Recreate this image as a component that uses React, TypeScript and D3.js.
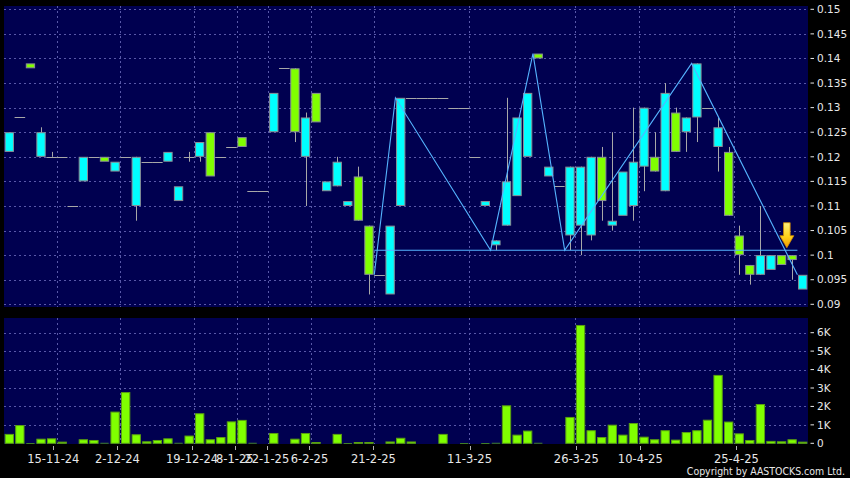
import React from "react";
import * as d3 from "d3";

const W = 850;
const H = 478;

// ---- data (one entry per trading slot) ----
const opens = [
  0.125, 0.128, 0.138, 0.125, 0.12, 0.12, 0.11, 0.12, 0.12, 0.119,
  0.119, 0.12, 0.12, 0.119, 0.119, 0.121, 0.114, 0.12, 0.123, 0.116,
  0.12, 0.122, 0.122, 0.113, 0.113, 0.133, 0.138, 0.125, 0.128, 0.127,
  0.115, 0.119, 0.111, 0.107, 0.096, 0.096, 0.106, 0.132, 0.132, 0.132,
  0.132, 0.132, 0.13, 0.13, 0.12, 0.111, 0.103, 0.115, 0.128, 0.133,
  0.14, 0.118, 0.114, 0.118, 0.118, 0.12, 0.111, 0.107, 0.117, 0.119,
  0.13, 0.117, 0.133, 0.121, 0.128, 0.139, 0.13, 0.126, 0.108, 0.1,
  0.096, 0.1, 0.1, 0.098, 0.099, 0.096,
];
const highs = [
  0.125, 0.128, 0.139, 0.126, 0.121, 0.12, 0.11, 0.12, 0.12, 0.12,
  0.119, 0.12, 0.12, 0.119, 0.119, 0.121, 0.114, 0.121, 0.123, 0.125,
  0.12, 0.122, 0.124, 0.113, 0.113, 0.133, 0.138, 0.138, 0.129, 0.133,
  0.115, 0.12, 0.111, 0.118, 0.106, 0.096, 0.106, 0.132, 0.132, 0.132,
  0.132, 0.132, 0.13, 0.13, 0.12, 0.111, 0.103, 0.132, 0.128, 0.133,
  0.141, 0.118, 0.114, 0.118, 0.118, 0.12, 0.122, 0.125, 0.117, 0.13,
  0.13, 0.125, 0.135, 0.13, 0.128, 0.139, 0.13, 0.128, 0.122, 0.106,
  0.098, 0.11, 0.1, 0.1, 0.1, 0.096,
];
const lows = [
  0.121, 0.128, 0.138, 0.12, 0.12, 0.12, 0.11, 0.115, 0.12, 0.119,
  0.117, 0.12, 0.107, 0.119, 0.119, 0.119, 0.111, 0.119, 0.119, 0.116,
  0.12, 0.122, 0.122, 0.113, 0.113, 0.125, 0.138, 0.123, 0.11, 0.127,
  0.113, 0.114, 0.11, 0.107, 0.092, 0.096, 0.092, 0.11, 0.132, 0.132,
  0.132, 0.132, 0.13, 0.13, 0.12, 0.11, 0.101, 0.106, 0.112, 0.12,
  0.14, 0.116, 0.114, 0.101, 0.1, 0.103, 0.107, 0.105, 0.108, 0.107,
  0.113, 0.117, 0.113, 0.121, 0.121, 0.123, 0.13, 0.117, 0.108, 0.096,
  0.094, 0.096, 0.097, 0.098, 0.095, 0.093,
];
const closes = [
  0.121, 0.128, 0.139, 0.12, 0.12, 0.12, 0.11, 0.115, 0.12, 0.12,
  0.117, 0.12, 0.11, 0.119, 0.119, 0.119, 0.111, 0.12, 0.12, 0.125,
  0.12, 0.122, 0.124, 0.113, 0.113, 0.125, 0.138, 0.138, 0.12, 0.133,
  0.113, 0.114, 0.11, 0.116, 0.106, 0.096, 0.092, 0.11, 0.132, 0.132,
  0.132, 0.132, 0.13, 0.13, 0.12, 0.11, 0.102, 0.106, 0.112, 0.12,
  0.141, 0.116, 0.114, 0.104, 0.106, 0.104, 0.12, 0.106, 0.108, 0.11,
  0.118, 0.12, 0.113, 0.129, 0.125, 0.128, 0.13, 0.122, 0.121, 0.104,
  0.098, 0.096, 0.097, 0.1, 0.1, 0.093,
];
const volumes = [
  510, 990, 20, 250, 270, 90, 0, 220, 180, 50,
  1720, 2780, 490, 110, 180, 270, 50, 420, 1630, 220,
  340, 1190, 1270, 50, 0, 560, 0, 250, 560, 70,
  0, 510, 40, 70, 70, 0, 100, 300, 100, 0,
  0, 510, 0, 30, 0, 20, 50, 2060, 470, 690,
  50, 0, 0, 1430, 6420, 710, 340, 1010, 470, 1100,
  360, 220, 710, 200, 610, 710, 1280, 3710, 1180, 540,
  180, 2130, 130, 110, 220, 90,
];

const priceTicks = [0.09, 0.095, 0.1, 0.105, 0.11, 0.115, 0.12, 0.125, 0.13, 0.135, 0.14, 0.145, 0.15];
const priceTickLabels = ["0.09", "0.095", "0.1", "0.105", "0.11", "0.115", "0.12", "0.125", "0.13", "0.135", "0.14", "0.145", "0.15"];
const volumeTicks = [0, 1000, 2000, 3000, 4000, 5000, 6000];
const volumeTickLabels = ["0", "1K", "2K", "3K", "4K", "5K", "6K"];
const dateLabels = ["15-11-24", "2-12-24", "19-12-24", "8-1-25", "22-1-25", "6-2-25", "21-2-25", "11-3-25", "26-3-25", "10-4-25", "25-4-25"];
const dateSlots = [4, 10, 17, 21, 24, 28, 34, 43, 53, 59, 68];

// pattern overlay (zigzag + neckline) and signal
const zigzagSlots = [35, 37, 46, 50, 53, 65, 75];
const zigzagPrices = [0.096, 0.132, 0.101, 0.141, 0.101, 0.139, 0.096];
const necklineSlots = [35, 75];
const necklinePrice = 0.101;
const signalSlot = 74;

// ---- styles ----
const BG = "#000000";
const PANEL = "#000050";
const GRID = "#5858a8";
const UP = "#80ff00";
const DOWN = "#00ffff";
const BOX_STROKE = "#8a8f96";
const WICK = "#a8a8a8";
const VOL_FILL = "#80ff00";
const VOL_STROKE = "#5aa010";
const LINE = "#55b4ff";
const TEXT = "#e8e8e8";
const FONT = "DejaVu Sans, sans-serif";

const PL = 4;
const PR = 808;
const P_TOP = 6;
const P_BOT = 307;
const V_TOP = 318;
const V_BOT = 444;

export default function App() {
  const slots = d3.range(closes.length);
  const x = d3.scaleBand<number>().domain(slots).range([PL, PR]);
  const tickX = d3.scaleBand<number>().domain(slots).range([5.3, 816.4]);
  const step = x.step();
  const bw = step * 0.88;
  const cx = (i: number) => (x(i) as number) + step / 2;

  const y = d3.scaleLinear().domain([0.09, 0.15]).range([304.3, 9.3]);
  const yv = d3.scaleLinear().domain([0, 6000]).range([443.3, 332.7]);

  const zigzag = d3
    .line<number>()
    .x((d) => x(zigzagSlots[d]) as number)
    .y((d) => y(zigzagPrices[d]));
  const zigPath = zigzag(d3.range(zigzagSlots.length)) || "";

  const gridXs = dateSlots.map((s) => (x(s) as number) + step);

  const arrowX = x(signalSlot) as number;
  const arrowTip = y(necklinePrice) - 2.5;

  return (
    <svg
      width={W}
      height={H}
      style={{ position: "absolute", left: 0, top: 0, display: "block", background: BG }}
    >
      <defs>
        <linearGradient id="arrowGrad" x1="0" y1="0" x2="0" y2="1">
          <stop offset="0%" stopColor="#fff27a" />
          <stop offset="55%" stopColor="#ffd21a" />
          <stop offset="100%" stopColor="#f29a00" />
        </linearGradient>
      </defs>
      <rect x={0} y={0} width={W} height={H} fill={BG} />
      {/* panels */}
      <rect x={PL} y={P_TOP} width={PR - PL} height={P_BOT - P_TOP} fill={PANEL} />
      <rect x={PL} y={V_TOP} width={PR - PL} height={V_BOT - V_TOP} fill={PANEL} />

      {/* price grid */}
      <g stroke={GRID} strokeWidth={1} strokeDasharray="2,3" shapeRendering="crispEdges">
        {priceTicks.map((t, i) => (
          <line key={"pg" + i} x1={PL} x2={PR} y1={Math.round(y(t)) + 0.5} y2={Math.round(y(t)) + 0.5} />
        ))}
        {volumeTicks.slice(1).map((t, i) => (
          <line key={"vg" + i} x1={PL} x2={PR} y1={Math.round(yv(t)) + 0.5} y2={Math.round(yv(t)) + 0.5} />
        ))}
        {gridXs.map((gx, i) => (
          <g key={"xg" + i}>
            <line x1={Math.round(gx) + 0.5} x2={Math.round(gx) + 0.5} y1={P_TOP} y2={P_BOT} />
            <line x1={Math.round(gx) + 0.5} x2={Math.round(gx) + 0.5} y1={V_TOP} y2={V_BOT} />
          </g>
        ))}
      </g>

      {/* candles */}
      <g>
        {slots.map((i) => {
          const o = opens[i];
          const c = closes[i];
          const h = highs[i];
          const l = lows[i];
          const mx = cx(i);
          const wx = Math.round(mx) + 0.5;
          if (o === c) {
            return (
              <g key={"c" + i} stroke={WICK} strokeWidth={1}>
                {(h > c || l < c) && <line x1={wx} x2={wx} y1={y(h)} y2={y(l)} />}
                <line x1={mx - step / 2} x2={mx + step / 2} y1={Math.round(y(c)) + 0.5} y2={Math.round(y(c)) + 0.5} />
              </g>
            );
          }
          const top = y(Math.max(o, c));
          const bot = y(Math.min(o, c));
          return (
            <g key={"c" + i}>
              {(h > Math.max(o, c) || l < Math.min(o, c)) && (
                <line x1={wx} x2={wx} y1={y(h)} y2={y(l)} stroke={WICK} strokeWidth={1} />
              )}
              <rect
                x={mx - bw / 2 + 0.5}
                y={top + 0.5}
                width={bw - 1}
                height={Math.max(bot - top - 1, 1)}
                fill={c > o ? UP : DOWN}
                stroke={BOX_STROKE}
                strokeWidth={1}
              />
            </g>
          );
        })}
      </g>

      {/* pattern overlay */}
      <path d={zigPath} fill="none" stroke={LINE} strokeWidth={1.1} />
      <line
        x1={x(necklineSlots[0]) as number}
        x2={x(necklineSlots[1]) as number}
        y1={y(necklinePrice)}
        y2={y(necklinePrice)}
        stroke={LINE}
        strokeWidth={1.1}
      />

      {/* signal arrow */}
      <path
        d={`M${arrowX - 3.3},${arrowTip - 25} L${arrowX + 3.3},${arrowTip - 25} L${arrowX + 3.3},${arrowTip - 12} L${arrowX + 7},${arrowTip - 12} L${arrowX},${arrowTip} L${arrowX - 7},${arrowTip - 12} L${arrowX - 3.3},${arrowTip - 12} Z`}
        fill="url(#arrowGrad)"
        stroke="#d08a00"
        strokeWidth={0.8}
      />

      {/* volume bars */}
      <g>
        {slots.map((i) => {
          const v = volumes[i];
          if (v <= 0) return null;
          const top = yv(v);
          return (
            <rect
              key={"v" + i}
              x={cx(i) - bw / 2 + 0.5}
              y={top + 0.5}
              width={bw - 1}
              height={Math.max(yv(0) - top - 0.5, 0.5)}
              fill={VOL_FILL}
              stroke={VOL_STROKE}
              strokeWidth={v > 60 ? 1 : 0}
            />
          );
        })}
      </g>

      {/* right axis: price */}
      <g fill={TEXT} fontFamily={FONT} fontSize={10.5}>
        {priceTicks.map((t, i) => (
          <g key={"pt" + i}>
            <line x1={810.5} x2={814} y1={y(t)} y2={y(t)} stroke={TEXT} strokeWidth={1} />
            <text x={817} y={y(t)} dy="0.36em">
              {priceTickLabels[i]}
            </text>
          </g>
        ))}
        {volumeTicks.map((t, i) => (
          <g key={"vt" + i}>
            <line x1={810.5} x2={814} y1={yv(t)} y2={yv(t)} stroke={TEXT} strokeWidth={1} />
            <text x={817} y={yv(t)} dy="0.36em">
              {volumeTickLabels[i]}
            </text>
          </g>
        ))}
      </g>

      {/* bottom axis: dates */}
      <g fill={TEXT} fontFamily={FONT} fontSize={11.5}>
        {dateSlots.map((s, i) => {
          const tx = (tickX(s) as number) + tickX.step() / 2;
          return (
            <g key={"dt" + i}>
              <line x1={Math.round(tx) + 0.5} x2={Math.round(tx) + 0.5} y1={446} y2={450} stroke="#b0b0b0" strokeWidth={1} />
              <text x={tx} y={462.5} textAnchor="middle">
                {dateLabels[i]}
              </text>
            </g>
          );
        })}
      </g>

      <text
        transform="translate(845,474.5) scale(0.855,1)"
        textAnchor="end"
        fill={TEXT}
        fontFamily={FONT}
        fontSize={11}
      >
        Copyright by AASTOCKS.com Ltd.
      </text>
    </svg>
  );
}
